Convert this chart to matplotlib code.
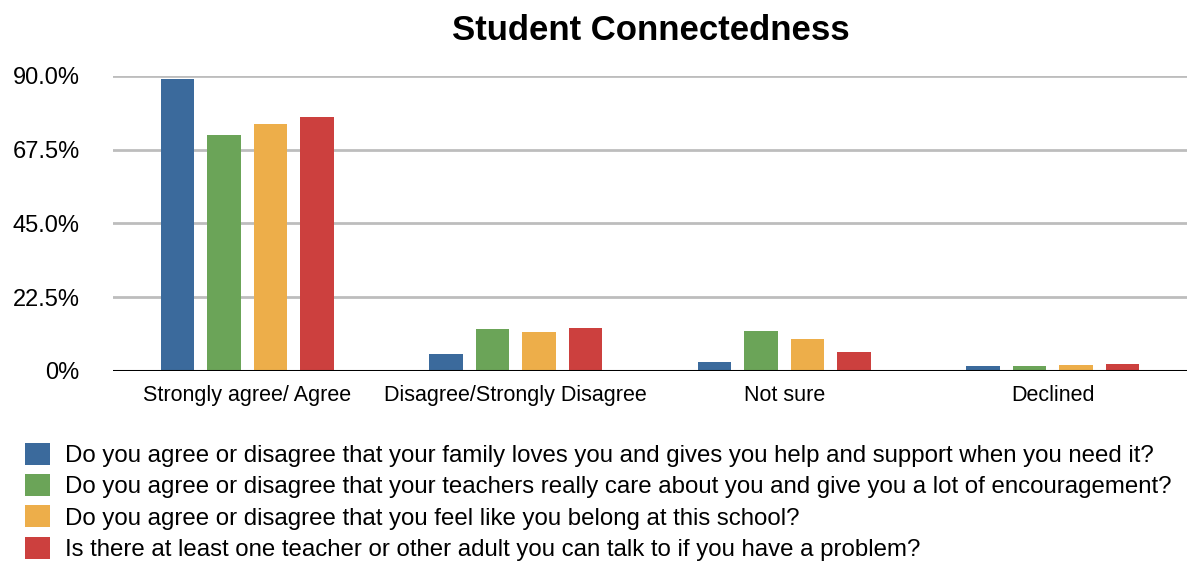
import numpy as np
from matplotlib import pyplot as plt
import matplotlib

matplotlib.rc("font", family=["Liberation Sans", "DejaVu Sans"])

categories = ["Strongly agree/ Agree", "Disagree/Strongly Disagree", "Not sure", "Declined"]
questions = [
    "Do you agree or disagree that your family loves you and gives you help and support when you need it?",
    "Do you agree or disagree that your teachers really care about you and give you a lot of encouragement?",
    "Do you agree or disagree that you feel like you belong at this school?",
    "Is there at least one teacher or other adult you can talk to if you have a problem?",
]
family = [88.9, 5.3, 2.8, 1.6]
teachers = [72.0, 12.7, 12.1, 1.6]
belong = [75.4, 11.8, 9.7, 1.9]
adult = [77.5, 13.0, 5.8, 2.2]
yticks = [0, 22.5, 45, 67.5, 90]
ytick_labels = ["0%", "22.5%", "45.0%", "67.5%", "90.0%"]

colors = ["#3b6a9c", "#6ba458", "#edae4a", "#cc403e"]

fig = plt.figure(figsize=(11.9, 5.62), dpi=100)
ax = fig.add_axes([0.095, 0.34, 0.9025, 0.525])

x = np.arange(len(categories))
step = 0.173
width = 0.125
bars = []
for i, (vals, c) in enumerate(zip([family, teachers, belong, adult], colors)):
    b = ax.bar(x + (i - 1.5) * step, vals, width, color=c, zorder=3)
    bars.append(b)

ax.set_xlim(-0.5, 3.5)
ax.set_ylim(0, 90)
ax.set_yticks(yticks)
ax.set_yticklabels(ytick_labels)
ax.set_xticks(x)
ax.set_xticklabels(categories)
ax.tick_params(axis="y", length=0, pad=24, labelsize=17)
ax.tick_params(axis="x", length=0, pad=10, labelsize=15.5)
ax.grid(axis="y", color="#bdbdbd", linewidth=2, zorder=0)
ax.axhline(0, color="black", linewidth=2.2, zorder=4)
for s in ax.spines.values():
    s.set_visible(False)

fig.text(0.547, 0.945, "Student Connectedness", ha="center", va="center",
         fontsize=25, fontweight="bold")

fig.legend(bars, questions, loc="upper left", bbox_to_anchor=(0.021, 0.212),
           frameon=False, fontsize=17.3, handlelength=1.04, handleheight=1.04,
           handletextpad=0.62, labelspacing=0.29, borderaxespad=0, borderpad=0)

plt.savefig("out.png", dpi=100)
